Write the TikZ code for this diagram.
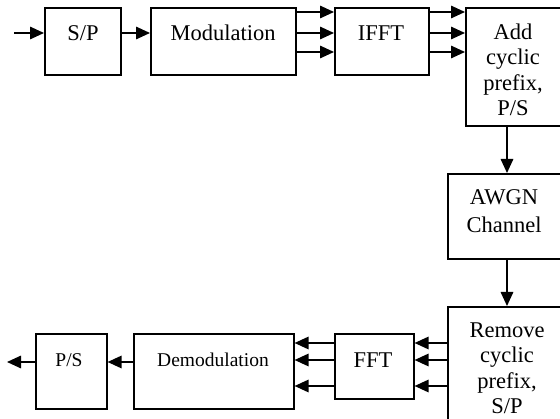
\documentclass[tikz,border=0pt]{standalone}
\usepackage{fontspec}
\setmainfont{Liberation Serif}
\usetikzlibrary{arrows.meta}
\begin{document}
\begin{tikzpicture}[x=1pt,y=-1pt,
  box/.style={draw,line width=1.6pt,rectangle,inner sep=0pt,anchor=north west},
  lbl/.style={font=\fontsize{22.5}{25.5}\selectfont,align=center,inner sep=0pt},
  slbl/.style={font=\fontsize{19.5}{22}\selectfont,align=center,inner sep=0pt},
  arr/.style={line width=1.6pt,-{Triangle[length=14pt,width=12.5pt]}}]
\useasboundingbox (0,0) rectangle (560,419);
\clip (0,0) rectangle (560,419);
% top row
\node[box,minimum width=76pt,minimum height=67pt] (sp) at (44,7) {};
\node[lbl] (tsp) at (83,33) {S/P};
\node[box,minimum width=145pt,minimum height=67pt] (mod) at (150,7) {};
\node[lbl] (tmod) at (223,33) {Modulation};
\node[box,minimum width=94pt,minimum height=67pt] (ifft) at (334,7) {};
\node[lbl] (tifft) at (381,33) {IFFT};
\node[box,minimum width=100pt,minimum height=118pt] (add) at (465,7) {};
\node[lbl] (tadd) at (513,70) {Add\\cyclic\\prefix,\\P/S};
% channel
\node[box,minimum width=116pt,minimum height=85pt] (awgn) at (447,173) {};
\node[lbl,font=\fontsize{22.5}{28}\selectfont] (tawgn) at (504,211) {AWGN\\Channel};
% bottom row
\node[box,minimum width=125pt,minimum height=140pt] (rem) at (447,306) {};
\node[lbl] (trem) at (507,368) {Remove\\cyclic\\prefix,\\S/P};
\node[box,minimum width=79pt,minimum height=65pt] (fft) at (334,333) {};
\node[lbl] (tfft) at (373,360) {FFT};
\node[box,minimum width=160pt,minimum height=75pt] (dem) at (133,333) {};
\node[slbl] (tdem) at (213,360) {Demodulation};
\node[box,minimum width=71pt,minimum height=75pt] (ps) at (35,333) {};
\node[slbl] (tps) at (69,360) {P/S};
\coordinate (in) at (14,33);
\coordinate (out) at (7,362);
% connectors
\draw[arr] (in) -- (sp.west |- in);
\draw[arr] (sp.east |- 0,33) -- (mod.west |- 0,33);
\foreach \y in {12,33,52} {
  \draw[arr] (mod.east |- 0,\y) -- (ifft.west |- 0,\y);
  \draw[arr] (ifft.east |- 0,\y) -- (add.west |- 0,\y);
}
\draw[arr] (add.south -| 507,0) -- (awgn.north -| 507,0);
\draw[arr] (awgn.south -| 507,0) -- (rem.north -| 507,0);
\foreach \y in {343,360,386} {
  \draw[arr] (rem.west |- 0,\y) -- (fft.east |- 0,\y);
  \draw[arr] (fft.west |- 0,\y) -- (dem.east |- 0,\y);
}
\draw[arr] (dem.west |- 0,362) -- (ps.east |- 0,362);
\draw[arr] (ps.west |- out) -- (out);
\end{tikzpicture}
\end{document}
